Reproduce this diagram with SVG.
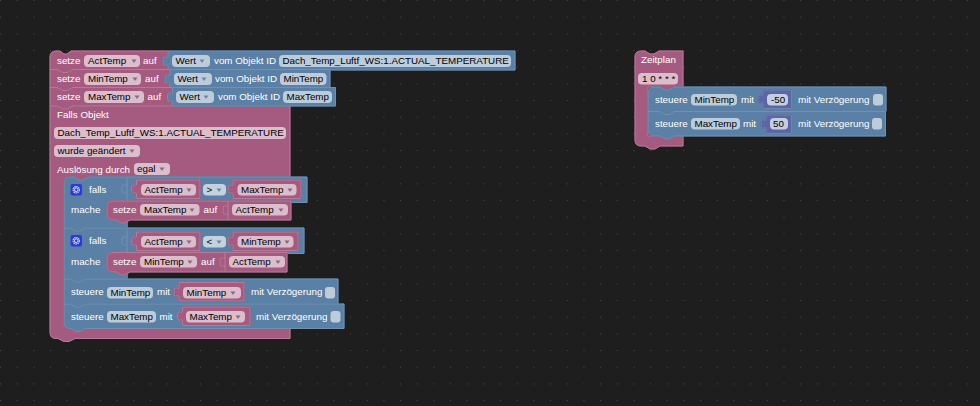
<svg xmlns="http://www.w3.org/2000/svg" width="980" height="406" viewBox="0 0 980 406">
<style>
text{font-family:"Liberation Sans",Arial,sans-serif;font-size:9.8px;transform:translateY(-.5px)}
.l{fill:#fff}.t{fill:#000;transform:translateY(-1.500px)}
.p{fill:#a55b80;stroke:#b67a97;stroke-width:1;filter:drop-shadow(.7px .7px 0 #7d4561)}
.b{fill:#5b80a5;stroke:#7291b1;stroke-width:1;filter:drop-shadow(.7px .7px 0 #456180)}
.v{fill:#5b67a5;stroke:#7680b4;stroke-width:1;filter:drop-shadow(.7px .7px 0 #454e7d)}
.s{fill:none;stroke:#7291b1}.r{fill:none;stroke:#b67a97}
.f{fill:#dbbdcc}.g{fill:#bdccdb}.n{fill:#c5cde0}.o{fill:#c4d2e0}
.c{fill:#bdccdb}
.d{fill:#8a6a7c}.e{fill:#6d87a0}
</style>
<defs>
<pattern id="grid" width="16.67" height="16.67" patternUnits="userSpaceOnUse"><rect width="1" height="1" fill="#4a4a4a"/></pattern>
<path id="dd" d="M-2.5,-1.5h5l-2.500,3.500z"/>
<g id="gear"><rect width="11.500" height="11.500" rx="2" fill="#2a3bd6"/><circle cx="5.750" cy="5.750" r="3.200" fill="none" stroke="#dfe3fa" stroke-width="1.100" stroke-dasharray="1.500 .6"/><circle cx="5.750" cy="5.750" r="1.800" fill="none" stroke="#dfe3fa" stroke-width="1"/></g>
</defs>
<rect width="980" height="406" fill="#1e1e1e"/>
<rect width="980" height="406" fill="url(#grid)"/>
<g id="connectors"/>

<g id="trigger-on">
<path class="p" d="M50,106H290V177H127V328H290V338.500H75l-6,3h-5l-6,-3H56q-6,0,-6,-6z"/>
<text class="l" x="57" y="118">Falls Objekt</text>
<rect class="f" x="54" y="127" width="232" height="12" rx="4"/><text class="t" x="57.500" y="137">Dach_Temp_Luftf_WS:1.ACTUAL_TEMPERATURE</text>
<rect class="f" x="54" y="145" width="86" height="12" rx="4"/><text class="t" x="57.500" y="155">wurde geändert</text><use href="#dd" x="132" y="151" class="d"/>
<text class="l" x="57" y="173">Auslösung durch</text>
<rect class="f" x="134" y="163" width="36" height="12" rx="4"/><text class="t" x="137" y="173">egal</text><use href="#dd" x="162" y="169" class="d"/>
</g>

<g id="set-acttemp">
<path class="p" d="M56,51H60l4,3h3l4,-3H168V70H73l-6,3h-4l-6,-3H50V57q0,-6,6,-6z"/>
<path class="b" d="M168,51H515V70H168V66c0,-5,-5,4.500,-5,-5s5,.5,5,-5z"/>
<text class="l" x="57" y="64">setze</text>
<rect class="f" x="84" y="55" width="56" height="12" rx="4"/><text class="t" x="88" y="65">ActTemp</text><use href="#dd" x="134" y="61" class="d"/>
<text class="l" x="143" y="64">auf</text>
<rect class="g" x="172" y="55" width="38" height="12" rx="4"/><text class="t" x="175.500" y="65">Wert</text><use href="#dd" x="202" y="61" class="e"/>
<text class="l" x="214" y="64">vom Objekt ID</text>
<rect class="g" x="279" y="55" width="232" height="12" rx="4"/><text class="t" x="282.500" y="65">Dach_Temp_Luftf_WS:1.ACTUAL_TEMPERATURE</text>
</g>

<g id="set-mintemp">
<path class="p" d="M50,69.500H57l6,3h4l6,-3H170V88H73l-6,3h-4l-6,-3H50z"/>
<path class="b" d="M170,69.500H330V88H170V84c0,-5,-5,4.500,-5,-5s5,.5,5,-5z"/>
<text class="l" x="57" y="82">setze</text>
<rect class="f" x="84" y="73" width="57" height="12" rx="4"/><text class="t" x="88" y="83">MinTemp</text><use href="#dd" x="135" y="79" class="d"/>
<text class="l" x="145" y="82">auf</text>
<rect class="g" x="174" y="73" width="38" height="12" rx="4"/><text class="t" x="177.500" y="83">Wert</text><use href="#dd" x="204" y="79" class="e"/>
<text class="l" x="215" y="82">vom Objekt ID</text>
<rect class="g" x="280" y="73" width="46.500" height="12" rx="4"/><text class="t" x="283.500" y="83">MinTemp</text>
</g>

<g id="set-maxtemp">
<path class="p" d="M50,87.500H57l6,3h4l6,-3H172.500V106H73l-6,3h-4l-6,-3H50z"/>
<path class="b" d="M172.500,87.500H335.500V106H172.500V102c0,-5,-5,4.500,-5,-5s5,.5,5,-5z"/>
<text class="l" x="57" y="100">setze</text>
<rect class="f" x="84" y="91" width="60" height="12" rx="4"/><text class="t" x="88" y="101">MaxTemp</text><use href="#dd" x="137" y="97" class="d"/>
<text class="l" x="147.500" y="100">auf</text>
<rect class="g" x="176" y="91" width="38" height="12" rx="4"/><text class="t" x="179.500" y="101">Wert</text><use href="#dd" x="206" y="97" class="e"/>
<text class="l" x="218" y="100">vom Objekt ID</text>
<rect class="g" x="283" y="91" width="49" height="12" rx="4"/><text class="t" x="286.500" y="101">MaxTemp</text>
</g>

<g id="if-max">
<path class="b" d="M70,177H74l5,3h4l5,-3H307V202.500H127V228H85l-5,3h-4l-5,-3H64V183q0,-6,6,-6z"/>
<path class="s" d="M127,177V194c0,-5,-5,4.500,-5,-5s5,.5,5,-5M127,194V202"/>
<use href="#gear" x="70.500" y="184"/>
<text class="l" x="89" y="193">falls</text>
<path class="p" d="M136.500,180H200V198.500H136.500V194c0,-5,-5,4.500,-5,-5s5,.5,5,-5z"/>
<rect class="f" x="141" y="184" width="55" height="11.500" rx="4"/><text class="t" x="144.500" y="194">ActTemp</text><use href="#dd" x="189" y="190" class="d"/>
<rect class="o" x="203" y="184" width="23" height="11.500" rx="4"/><text class="t" x="206.500" y="194">&gt;</text><use href="#dd" x="219" y="190" class="e"/>
<path class="p" d="M233,180H301V198.500H233V194c0,-5,-5,4.500,-5,-5s5,.5,5,-5z"/>
<rect class="f" x="237.500" y="184" width="59" height="11.500" rx="4"/><text class="t" x="241" y="194">MaxTemp</text><use href="#dd" x="290" y="190" class="d"/>
<text class="l" x="71" y="213">mache</text>
</g>
<g id="set-max-inner">
<path class="p" d="M113,201H291V220H130l-5,3h-4l-5,-3H113q-6,0,-6,-6V207q0,-6,6,-6z"/>
<text class="l" x="113" y="213">setze</text>
<rect class="f" x="140" y="204" width="59.500" height="11.500" rx="4"/><text class="t" x="144" y="214.500">MaxTemp</text><use href="#dd" x="192" y="210" class="d"/>
<text class="l" x="203.500" y="213">auf</text>
<path class="r" d="M228,201V215c0,-5,-5,4.500,-5,-5s5,.5,5,-5M228,215V220"/>
<rect class="f" x="232" y="204" width="56" height="11.500" rx="4"/><text class="t" x="235.500" y="214.500">ActTemp</text><use href="#dd" x="281" y="210" class="d"/>
</g>

<g id="if-min">
<path class="b" d="M64,228H71l5,3h4l5,-3H304V253.500H127V279H85l-5,3h-4l-5,-3H64z"/>
<path class="s" d="M127,228V246c0,-5,-5,4.500,-5,-5s5,.5,5,-5M127,246V253"/>
<use href="#gear" x="70.500" y="235"/>
<text class="l" x="89" y="244">falls</text>
<path class="p" d="M136.500,232H200V250.500H136.500V246c0,-5,-5,4.500,-5,-5s5,.5,5,-5z"/>
<rect class="f" x="141" y="236" width="55" height="11.500" rx="4"/><text class="t" x="144.500" y="246">ActTemp</text><use href="#dd" x="189" y="242" class="d"/>
<rect class="o" x="203" y="236" width="23" height="11.500" rx="4"/><text class="t" x="206.500" y="246">&lt;</text><use href="#dd" x="219" y="242" class="e"/>
<path class="p" d="M233,232H298V250.500H233V246c0,-5,-5,4.500,-5,-5s5,.5,5,-5z"/>
<rect class="f" x="237.500" y="236" width="56" height="11.500" rx="4"/><text class="t" x="241" y="246">MinTemp</text><use href="#dd" x="287" y="242" class="d"/>
<text class="l" x="71" y="265">mache</text>
</g>
<g id="set-min-inner">
<path class="p" d="M113,252.500H287V272H130l-5,3h-4l-5,-3H113q-6,0,-6,-6V258.500q0,-6,6,-6z"/>
<text class="l" x="113" y="265">setze</text>
<rect class="f" x="140" y="256" width="57" height="11.500" rx="4"/><text class="t" x="144" y="266">MinTemp</text><use href="#dd" x="190" y="262" class="d"/>
<text class="l" x="201" y="265">auf</text>
<path class="r" d="M225,252.500V267c0,-5,-5,4.500,-5,-5s5,.5,5,-5M225,267V272"/>
<rect class="f" x="229" y="256" width="56" height="11.500" rx="4"/><text class="t" x="232.500" y="266">ActTemp</text><use href="#dd" x="278" y="262" class="d"/>
</g>

<g id="control-min">
<path class="b" d="M64,279H71l5,3h4l5,-3H338V304H85l-5,3h-4l-5,-3H64z"/>
<text class="l" x="71" y="295">steuere</text>
<rect class="g" x="107" y="287" width="46" height="11.500" rx="4"/><text class="t" x="110.500" y="297">MinTemp</text>
<text class="l" x="157" y="295">mit</text>
<path class="p" d="M179,282.500H244V301H179V297c0,-5,-5,4.500,-5,-5s5,.5,5,-5z"/>
<rect class="f" x="183" y="287" width="58" height="11.500" rx="4"/><text class="t" x="186.500" y="297">MinTemp</text><use href="#dd" x="233" y="293" class="d"/>
<text class="l" x="251" y="295">mit Verzögerung</text>
<rect class="c" x="325" y="287" width="10" height="11.500" rx="3"/>
</g>
<g id="control-max">
<path class="b" d="M64,304H71l5,3h4l5,-3H344V328.500H85l-5,3h-4l-5,-3H70q-6,0,-6,-6z"/>
<text class="l" x="71" y="320">steuere</text>
<rect class="g" x="107" y="311" width="49" height="11.500" rx="4"/><text class="t" x="110.500" y="321">MaxTemp</text>
<text class="l" x="159.500" y="320">mit</text>
<path class="p" d="M182.500,307H250V325.500H182.500V321c0,-5,-5,4.500,-5,-5s5,.5,5,-5z"/>
<rect class="f" x="186" y="311" width="59" height="11.500" rx="4"/><text class="t" x="189.500" y="321">MaxTemp</text><use href="#dd" x="238" y="317" class="d"/>
<text class="l" x="256" y="320">mit Verzögerung</text>
<rect class="c" x="330.500" y="311" width="10" height="11.500" rx="3"/>
</g>

<g id="schedule">
<path class="p" d="M641,51H645l5,3h4l5,-3H683V87H674l-5,3h-4l-5,-3H648V136H683V146H660l-5,3h-5l-5,-3H641q-6,0,-6,-6V57q0,-6,6,-6z"/>
<text class="l" x="641" y="63.500">Zeitplan</text>
<rect class="f" x="638" y="73" width="40" height="11.500" rx="4"/><text class="t" x="642" y="83">1 0 * * *</text>
</g>
<g id="control-min-2">
<path class="b" d="M654,87H660l5,3h4l5,-3H886V111.500H674l-5,3h-4l-5,-3H648V93q0,-6,6,-6z"/>
<text class="l" x="655" y="103">steuere</text>
<rect class="g" x="691" y="94" width="46" height="11.500" rx="4"/><text class="t" x="694.500" y="104">MinTemp</text>
<text class="l" x="741" y="103">mit</text>
<path class="v" d="M763,90H791.500V108.500H763V104c0,-5,-5,4.500,-5,-5s5,.5,5,-5z"/>
<rect class="n" x="767" y="94" width="21" height="11.500" rx="4"/><text class="t" x="771" y="104">-50</text>
<text class="l" x="798" y="103">mit Verzögerung</text>
<rect class="c" x="873" y="94" width="10" height="11.500" rx="3"/>
</g>
<g id="control-max-2">
<path class="b" d="M648,111.500H660l5,3h4l5,-3H885.500V136H674l-5,3h-4l-5,-3H654q-6,0,-6,-6z"/>
<text class="l" x="655" y="127">steuere</text>
<rect class="g" x="691" y="118" width="49" height="11.500" rx="4"/><text class="t" x="694.500" y="128">MaxTemp</text>
<text class="l" x="743" y="127">mit</text>
<path class="v" d="M766,115H791.500V133.500H766V129c0,-5,-5,4.500,-5,-5s5,.5,5,-5z"/>
<rect class="n" x="770" y="118" width="18" height="11.500" rx="4"/><text class="t" x="773" y="128">50</text>
<text class="l" x="798" y="127">mit Verzögerung</text>
<rect class="c" x="872" y="118" width="10" height="11.500" rx="3"/>
</g>
</svg>
